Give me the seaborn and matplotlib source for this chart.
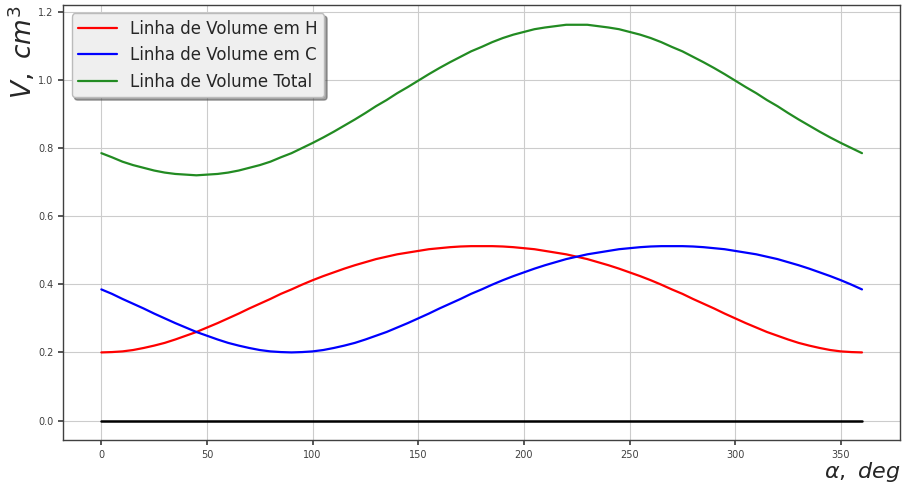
import matplotlib
matplotlib.use("Agg")
import matplotlib.pyplot as plt
import seaborn as sns

# ---- data (crank angle every 5 degrees) ----
alpha_deg = list(range(0, 361, 5))
vol_h = [0.200, 0.201, 0.203, 0.207, 0.213, 0.220, 0.228, 0.238, 0.249, 0.260, 0.273, 0.286,
         0.300, 0.314, 0.329, 0.343, 0.357, 0.372, 0.385, 0.399, 0.412, 0.424, 0.435, 0.446,
         0.456, 0.465, 0.474, 0.481, 0.488, 0.493, 0.498, 0.503, 0.506, 0.509, 0.511, 0.512,
         0.512, 0.512, 0.511, 0.509, 0.506, 0.503, 0.498, 0.493, 0.488, 0.481, 0.474, 0.465,
         0.456, 0.446, 0.435, 0.424, 0.412, 0.399, 0.385, 0.372, 0.357, 0.343, 0.329, 0.314,
         0.300, 0.286, 0.273, 0.260, 0.249, 0.238, 0.228, 0.220, 0.213, 0.207, 0.203, 0.201, 0.200]
vol_c = [0.385, 0.372, 0.357, 0.343, 0.329, 0.314, 0.300, 0.286, 0.273, 0.260, 0.249, 0.238,
         0.228, 0.220, 0.213, 0.207, 0.203, 0.201, 0.200, 0.201, 0.203, 0.207, 0.213, 0.220,
         0.228, 0.238, 0.249, 0.260, 0.273, 0.286, 0.300, 0.314, 0.329, 0.343, 0.357, 0.372,
         0.385, 0.399, 0.412, 0.424, 0.435, 0.446, 0.456, 0.465, 0.474, 0.481, 0.488, 0.493,
         0.498, 0.503, 0.506, 0.509, 0.511, 0.512, 0.512, 0.512, 0.511, 0.509, 0.506, 0.503,
         0.498, 0.493, 0.488, 0.481, 0.474, 0.465, 0.456, 0.446, 0.435, 0.424, 0.412, 0.399, 0.385]
vol_total = [0.785, 0.773, 0.760, 0.750, 0.742, 0.734, 0.728, 0.724, 0.722, 0.720, 0.722, 0.724,
             0.728, 0.734, 0.742, 0.750, 0.760, 0.773, 0.785, 0.800, 0.815, 0.831, 0.848, 0.866,
             0.884, 0.903, 0.923, 0.941, 0.961, 0.979, 0.998, 1.017, 1.035, 1.052, 1.068, 1.084,
             1.097, 1.111, 1.123, 1.133, 1.141, 1.149, 1.154, 1.158, 1.162, 1.162, 1.162, 1.158,
             1.154, 1.149, 1.141, 1.133, 1.123, 1.111, 1.097, 1.084, 1.068, 1.052, 1.035, 1.017,
             0.998, 0.979, 0.961, 0.941, 0.923, 0.903, 0.884, 0.866, 0.848, 0.831, 0.815, 0.800, 0.785]
zero_line = [0.0] * len(alpha_deg)
series_labels = ["Linha de Volume em H", "Linha de Volume em C", "Linha de Volume Total"]
x_ticks = [0, 50, 100, 150, 200, 250, 300, 350]
y_ticks = [0.0, 0.2, 0.4, 0.6, 0.8, 1.0, 1.2]

sns.set_theme(style="whitegrid", rc={
    "axes.edgecolor": "0.25",
    "axes.linewidth": 1.0,
    "grid.color": "0.80",
    "grid.linewidth": 0.8,
    "xtick.bottom": True,
    "ytick.left": True,
    "xtick.color": "0.25",
    "ytick.color": "0.25",
    "xtick.major.size": 3.5,
    "ytick.major.size": 3.5,
    "xtick.labelsize": 7,
    "ytick.labelsize": 7,
})
plt.rcParams["font.family"] = ["DejaVu Sans"]

fig = plt.figure(figsize=(9.02, 4.88), dpi=100)
ax = fig.add_axes([0.0702, 0.0977, 0.9276, 0.8921])

sns.lineplot(x=alpha_deg, y=vol_h, color="#ff0000", lw=1.6, label=series_labels[0], ax=ax)
sns.lineplot(x=alpha_deg, y=vol_c, color="#0000ff", lw=1.6, label=series_labels[1], ax=ax)
sns.lineplot(x=alpha_deg, y=vol_total, color="#228b22", lw=1.6, label=series_labels[2], ax=ax)
sns.lineplot(x=alpha_deg, y=zero_line, color="black", lw=1.8, ax=ax)

for sp in ax.spines.values():
    sp.set_visible(True)
    sp.set_color("0.25")

handles, labels = ax.get_legend_handles_labels()
leg = ax.legend(handles[:3], labels[:3], loc="upper left", fontsize=12, shadow=True,
                fancybox=True, frameon=True, handlelength=2.3)
leg.get_frame().set_facecolor("#efefef")
leg.get_frame().set_edgecolor("#bbbbbb")
leg.get_frame().set_alpha(1.0)

ax.set_xticks(x_ticks)
ax.set_yticks(y_ticks)
ax.set_ylabel(r"$V,\ cm^3$", fontsize=19, loc="top", labelpad=0)
ax.set_xlabel(r"$\alpha,\ deg$", fontsize=16, loc="right", labelpad=0)

fig.savefig("out.png", dpi=100)
